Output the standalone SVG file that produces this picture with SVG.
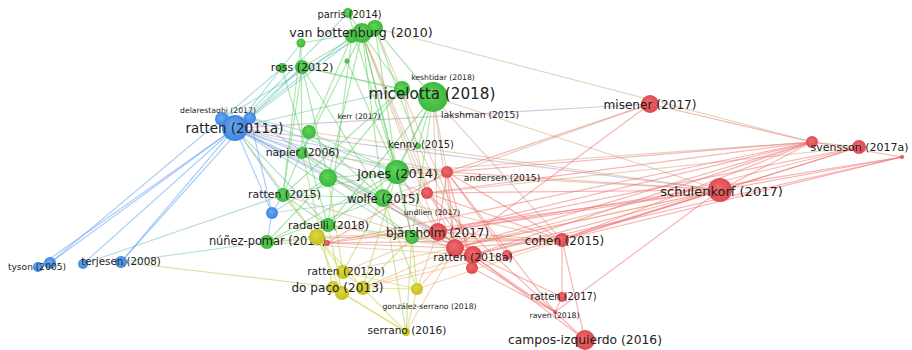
<svg xmlns="http://www.w3.org/2000/svg" width="912" height="350" viewBox="0 0 912 350">
<defs>
<radialGradient id="gG" cx="50%" cy="50%" r="50%" fx="40%" fy="35%"><stop offset="0" stop-color="#5fd35a"/><stop offset="1" stop-color="#3eb83e"/></radialGradient>
<radialGradient id="gR" cx="50%" cy="50%" r="50%" fx="40%" fy="35%"><stop offset="0" stop-color="#f06a6a"/><stop offset="1" stop-color="#dc4a52"/></radialGradient>
<radialGradient id="gB" cx="50%" cy="50%" r="50%" fx="40%" fy="35%"><stop offset="0" stop-color="#68a8f4"/><stop offset="1" stop-color="#3f86e0"/></radialGradient>
<radialGradient id="gY" cx="50%" cy="50%" r="50%" fx="40%" fy="35%"><stop offset="0" stop-color="#dedb40"/><stop offset="1" stop-color="#c6c01e"/></radialGradient>
</defs>
<style>
.eg{stroke:#5fcc5f;stroke-opacity:.5;stroke-width:1.2}
.eb{stroke:#5a9cf0;stroke-opacity:.5;stroke-width:1.2}
.ebg{stroke:#5ab8b8;stroke-opacity:.45;stroke-width:1.2}
.ebr{stroke:#a880c8;stroke-opacity:.45;stroke-width:1.2}
.egr{stroke:#c8a070;stroke-opacity:.45;stroke-width:1.2}
.er{stroke:#f06a6a;stroke-opacity:.5;stroke-width:1.2}
.ey{stroke:#d6d240;stroke-opacity:.55;stroke-width:1.2}
.eyg{stroke:#a8cc48;stroke-opacity:.5;stroke-width:1.2}
.eyr{stroke:#e8a060;stroke-opacity:.45;stroke-width:1.2}
.G{fill:url(#gG)}.R{fill:url(#gR)}.B{fill:url(#gB)}.Y{fill:url(#gY)}
text{font-family:"DejaVu Sans","Liberation Sans",sans-serif;fill:#222222;text-anchor:middle}
</style>
<rect width="912" height="350" fill="#ffffff"/>
<g id="connectors">
<line class="eb" x1="235" y1="128" x2="38" y2="267"/>
<line class="eb" x1="235" y1="128" x2="50" y2="263"/>
<line class="eb" x1="222" y1="119" x2="50" y2="263"/>
<line class="eb" x1="235" y1="128" x2="83" y2="264"/>
<line class="eb" x1="235" y1="128" x2="121" y2="262"/>
<line class="eb" x1="250" y1="118" x2="121" y2="262"/>
<line class="eb" x1="235" y1="128" x2="272" y2="213"/>
<line class="eb" x1="250" y1="118" x2="272" y2="213"/>
<line class="eb" x1="235" y1="128" x2="283" y2="195"/>
<line class="eb" x1="235" y1="128" x2="302" y2="153"/>
<line class="eb" x1="235" y1="128" x2="328" y2="178"/>
<line class="eb" x1="272" y1="213" x2="283" y2="195"/>
<line class="eb" x1="272" y1="213" x2="267" y2="242"/>
<line class="ebg" x1="235" y1="128" x2="302" y2="67"/>
<line class="ebg" x1="222" y1="119" x2="282" y2="68"/>
<line class="ebg" x1="250" y1="118" x2="302" y2="67"/>
<line class="ebg" x1="235" y1="128" x2="352" y2="36"/>
<line class="ebg" x1="250" y1="118" x2="362" y2="33"/>
<line class="ebg" x1="222" y1="119" x2="375" y2="28"/>
<line class="ebg" x1="235" y1="128" x2="301" y2="43"/>
<line class="ebg" x1="240" y1="122" x2="348" y2="13"/>
<line class="ebg" x1="235" y1="128" x2="402" y2="89"/>
<line class="ebg" x1="250" y1="118" x2="309" y2="132"/>
<line class="ebg" x1="235" y1="128" x2="397" y2="172"/>
<line class="ebg" x1="250" y1="118" x2="397" y2="172"/>
<line class="ebg" x1="235" y1="128" x2="383" y2="198"/>
<line class="ebg" x1="235" y1="128" x2="412" y2="237"/>
<line class="ebg" x1="235" y1="128" x2="328" y2="225"/>
<line class="ebg" x1="121" y1="262" x2="267" y2="242"/>
<line class="ebg" x1="83" y1="264" x2="283" y2="195"/>
<line class="ebg" x1="272" y1="213" x2="383" y2="198"/>
<line class="ebg" x1="272" y1="213" x2="328" y2="178"/>
<line class="ebr" x1="235" y1="128" x2="447" y2="172"/>
<line class="ebr" x1="235" y1="128" x2="427" y2="193"/>
<line class="ebr" x1="235" y1="128" x2="438" y2="232"/>
<line class="ebr" x1="235" y1="128" x2="650" y2="104"/>
<line class="ebr" x1="250" y1="118" x2="455" y2="248"/>
<line class="ebr" x1="235" y1="128" x2="720" y2="190"/>
<line class="eyg" x1="121" y1="262" x2="333" y2="287"/>
<line class="eyg" x1="235" y1="128" x2="317" y2="237"/>
<line class="eg" x1="362" y1="33" x2="302" y2="67"/>
<line class="eg" x1="362" y1="33" x2="301" y2="43"/>
<line class="eg" x1="375" y1="28" x2="433" y2="97"/>
<line class="eg" x1="362" y1="33" x2="402" y2="89"/>
<line class="eg" x1="362" y1="33" x2="397" y2="172"/>
<line class="eg" x1="375" y1="28" x2="397" y2="172"/>
<line class="eg" x1="362" y1="33" x2="383" y2="198"/>
<line class="eg" x1="352" y1="36" x2="283" y2="195"/>
<line class="eg" x1="362" y1="33" x2="302" y2="153"/>
<line class="eg" x1="362" y1="33" x2="328" y2="178"/>
<line class="eg" x1="352" y1="36" x2="328" y2="225"/>
<line class="eg" x1="362" y1="33" x2="412" y2="237"/>
<line class="eg" x1="348" y1="13" x2="362" y2="33"/>
<line class="eg" x1="348" y1="13" x2="397" y2="172"/>
<line class="eg" x1="375" y1="28" x2="418" y2="146"/>
<line class="eg" x1="347" y1="61" x2="397" y2="172"/>
<line class="eg" x1="301" y1="43" x2="283" y2="195"/>
<line class="eg" x1="301" y1="43" x2="302" y2="153"/>
<line class="eg" x1="302" y1="67" x2="402" y2="89"/>
<line class="eg" x1="302" y1="67" x2="433" y2="97"/>
<line class="eg" x1="302" y1="67" x2="328" y2="178"/>
<line class="eg" x1="302" y1="67" x2="283" y2="195"/>
<line class="eg" x1="282" y1="68" x2="328" y2="225"/>
<line class="eg" x1="302" y1="67" x2="383" y2="198"/>
<line class="eg" x1="433" y1="97" x2="397" y2="172"/>
<line class="eg" x1="433" y1="97" x2="383" y2="198"/>
<line class="eg" x1="402" y1="89" x2="328" y2="178"/>
<line class="eg" x1="433" y1="97" x2="412" y2="237"/>
<line class="eg" x1="402" y1="89" x2="283" y2="195"/>
<line class="eg" x1="433" y1="97" x2="418" y2="146"/>
<line class="eg" x1="309" y1="132" x2="397" y2="172"/>
<line class="eg" x1="309" y1="132" x2="383" y2="198"/>
<line class="eg" x1="302" y1="153" x2="383" y2="198"/>
<line class="eg" x1="302" y1="153" x2="412" y2="237"/>
<line class="eg" x1="328" y1="178" x2="397" y2="172"/>
<line class="eg" x1="328" y1="178" x2="383" y2="198"/>
<line class="eg" x1="397" y1="172" x2="383" y2="198"/>
<line class="eg" x1="283" y1="195" x2="383" y2="198"/>
<line class="eg" x1="283" y1="195" x2="328" y2="225"/>
<line class="eg" x1="328" y1="225" x2="412" y2="237"/>
<line class="eg" x1="267" y1="242" x2="328" y2="178"/>
<line class="eg" x1="267" y1="242" x2="383" y2="198"/>
<line class="eg" x1="397" y1="172" x2="412" y2="237"/>
<line class="eg" x1="267" y1="242" x2="397" y2="172"/>
<line class="eg" x1="283" y1="195" x2="397" y2="172"/>
<line class="eg" x1="328" y1="225" x2="397" y2="172"/>
<line class="eg" x1="433" y1="97" x2="328" y2="225"/>
<line class="egr" x1="362" y1="33" x2="455" y2="248"/>
<line class="egr" x1="362" y1="33" x2="438" y2="232"/>
<line class="egr" x1="375" y1="28" x2="473" y2="255"/>
<line class="egr" x1="362" y1="33" x2="427" y2="193"/>
<line class="egr" x1="375" y1="28" x2="812" y2="142"/>
<line class="egr" x1="433" y1="97" x2="455" y2="248"/>
<line class="egr" x1="433" y1="97" x2="447" y2="172"/>
<line class="egr" x1="433" y1="97" x2="720" y2="190"/>
<line class="egr" x1="433" y1="97" x2="438" y2="232"/>
<line class="egr" x1="433" y1="97" x2="562" y2="240"/>
<line class="egr" x1="397" y1="172" x2="447" y2="172"/>
<line class="egr" x1="397" y1="172" x2="438" y2="232"/>
<line class="egr" x1="397" y1="172" x2="455" y2="248"/>
<line class="egr" x1="397" y1="172" x2="720" y2="190"/>
<line class="egr" x1="397" y1="172" x2="812" y2="142"/>
<line class="egr" x1="383" y1="198" x2="455" y2="248"/>
<line class="egr" x1="383" y1="198" x2="438" y2="232"/>
<line class="egr" x1="383" y1="198" x2="562" y2="240"/>
<line class="egr" x1="383" y1="198" x2="650" y2="104"/>
<line class="egr" x1="383" y1="198" x2="859" y2="147"/>
<line class="egr" x1="309" y1="132" x2="720" y2="190"/>
<line class="egr" x1="412" y1="237" x2="455" y2="248"/>
<line class="egr" x1="412" y1="237" x2="562" y2="240"/>
<line class="egr" x1="328" y1="225" x2="455" y2="248"/>
<line class="egr" x1="328" y1="178" x2="438" y2="232"/>
<line class="egr" x1="283" y1="195" x2="455" y2="248"/>
<line class="egr" x1="267" y1="242" x2="438" y2="232"/>
<line class="egr" x1="267" y1="242" x2="473" y2="255"/>
<line class="egr" x1="302" y1="153" x2="447" y2="172"/>
<line class="egr" x1="402" y1="89" x2="427" y2="193"/>
<line class="egr" x1="418" y1="146" x2="473" y2="255"/>
<line class="er" x1="812" y1="142" x2="447" y2="172"/>
<line class="er" x1="812" y1="142" x2="427" y2="193"/>
<line class="er" x1="812" y1="142" x2="438" y2="232"/>
<line class="er" x1="812" y1="142" x2="455" y2="248"/>
<line class="er" x1="812" y1="142" x2="473" y2="255"/>
<line class="er" x1="812" y1="142" x2="562" y2="240"/>
<line class="er" x1="812" y1="142" x2="720" y2="190"/>
<line class="er" x1="812" y1="142" x2="327" y2="243"/>
<line class="er" x1="859" y1="147" x2="455" y2="248"/>
<line class="er" x1="859" y1="147" x2="562" y2="240"/>
<line class="er" x1="859" y1="147" x2="438" y2="232"/>
<line class="er" x1="859" y1="147" x2="720" y2="190"/>
<line class="er" x1="859" y1="147" x2="812" y2="142"/>
<line class="er" x1="902" y1="157" x2="473" y2="255"/>
<line class="er" x1="902" y1="157" x2="562" y2="240"/>
<line class="er" x1="902" y1="157" x2="720" y2="190"/>
<line class="er" x1="902" y1="157" x2="438" y2="232"/>
<line class="er" x1="902" y1="157" x2="812" y2="142"/>
<line class="er" x1="720" y1="190" x2="438" y2="232"/>
<line class="er" x1="720" y1="190" x2="455" y2="248"/>
<line class="er" x1="720" y1="190" x2="473" y2="255"/>
<line class="er" x1="720" y1="190" x2="562" y2="240"/>
<line class="er" x1="720" y1="190" x2="555" y2="312"/>
<line class="er" x1="720" y1="190" x2="447" y2="172"/>
<line class="er" x1="720" y1="190" x2="427" y2="193"/>
<line class="er" x1="720" y1="190" x2="327" y2="243"/>
<line class="er" x1="562" y1="240" x2="562" y2="297"/>
<line class="er" x1="562" y1="240" x2="585" y2="340"/>
<line class="er" x1="562" y1="240" x2="455" y2="248"/>
<line class="er" x1="562" y1="240" x2="438" y2="232"/>
<line class="er" x1="562" y1="240" x2="447" y2="172"/>
<line class="er" x1="562" y1="240" x2="427" y2="193"/>
<line class="er" x1="562" y1="297" x2="555" y2="312"/>
<line class="er" x1="455" y1="248" x2="555" y2="312"/>
<line class="er" x1="473" y1="255" x2="585" y2="340"/>
<line class="er" x1="438" y1="232" x2="555" y2="312"/>
<line class="er" x1="473" y1="255" x2="562" y2="297"/>
<line class="er" x1="585" y1="340" x2="555" y2="312"/>
<line class="er" x1="650" y1="104" x2="447" y2="172"/>
<line class="er" x1="650" y1="104" x2="455" y2="248"/>
<line class="er" x1="650" y1="104" x2="812" y2="142"/>
<line class="er" x1="447" y1="172" x2="438" y2="232"/>
<line class="er" x1="447" y1="172" x2="455" y2="248"/>
<line class="er" x1="427" y1="193" x2="473" y2="255"/>
<line class="er" x1="438" y1="232" x2="473" y2="255"/>
<line class="er" x1="327" y1="243" x2="455" y2="248"/>
<line class="er" x1="327" y1="243" x2="562" y2="240"/>
<line class="er" x1="447" y1="172" x2="327" y2="243"/>
<line class="er" x1="427" y1="193" x2="555" y2="312"/>
<line class="er" x1="447" y1="172" x2="555" y2="312"/>
<line class="er" x1="472" y1="268" x2="555" y2="312"/>
<line class="er" x1="447" y1="172" x2="507" y2="255"/>
<line class="er" x1="447" y1="172" x2="472" y2="268"/>
<line class="er" x1="720" y1="190" x2="507" y2="255"/>
<line class="ey" x1="317" y1="237" x2="343" y2="272"/>
<line class="ey" x1="317" y1="237" x2="363" y2="288"/>
<line class="ey" x1="317" y1="237" x2="342" y2="293"/>
<line class="ey" x1="343" y1="272" x2="363" y2="288"/>
<line class="ey" x1="363" y1="288" x2="406" y2="332"/>
<line class="ey" x1="342" y1="293" x2="406" y2="332"/>
<line class="ey" x1="417" y1="289" x2="406" y2="332"/>
<line class="ey" x1="343" y1="272" x2="417" y2="289"/>
<line class="ey" x1="363" y1="288" x2="417" y2="289"/>
<line class="ey" x1="333" y1="287" x2="406" y2="332"/>
<line class="eyg" x1="317" y1="237" x2="328" y2="225"/>
<line class="eyg" x1="317" y1="237" x2="267" y2="242"/>
<line class="eyg" x1="343" y1="272" x2="383" y2="198"/>
<line class="eyg" x1="363" y1="288" x2="412" y2="237"/>
<line class="eyg" x1="417" y1="289" x2="412" y2="237"/>
<line class="eyg" x1="417" y1="289" x2="383" y2="198"/>
<line class="eyg" x1="406" y1="332" x2="412" y2="237"/>
<line class="eyg" x1="317" y1="237" x2="283" y2="195"/>
<line class="eyg" x1="343" y1="272" x2="328" y2="178"/>
<line class="eyg" x1="363" y1="288" x2="397" y2="172"/>
<line class="eyg" x1="342" y1="293" x2="328" y2="225"/>
<line class="eyg" x1="333" y1="287" x2="302" y2="153"/>
<line class="eyg" x1="406" y1="332" x2="383" y2="198"/>
<line class="eyr" x1="406" y1="332" x2="455" y2="248"/>
<line class="eyr" x1="417" y1="289" x2="455" y2="248"/>
<line class="eyr" x1="417" y1="289" x2="438" y2="232"/>
<line class="eyr" x1="343" y1="272" x2="438" y2="232"/>
<line class="eyr" x1="363" y1="288" x2="455" y2="248"/>
<line class="eyr" x1="363" y1="288" x2="562" y2="240"/>
<line class="eyr" x1="317" y1="237" x2="438" y2="232"/>
<line class="eyr" x1="417" y1="289" x2="562" y2="240"/>
<line class="eyr" x1="342" y1="293" x2="473" y2="255"/>
<line class="eyr" x1="343" y1="272" x2="720" y2="190"/>
<line class="eyr" x1="317" y1="237" x2="562" y2="240"/>
</g>
<g id="nodes">
<g id="n-parris"><circle class="G" cx="348" cy="13" r="5"/><text x="349.5" y="17.5" font-size="9.9">parris (2014)</text></g>
<g id="n-vanbottenburg"><circle class="G" cx="375" cy="28" r="8"/><circle class="G" cx="352" cy="36" r="7"/><circle class="G" cx="362" cy="33" r="10"/><text x="361" y="37" font-size="12.6">van bottenburg (2010)</text></g>
<g id="n-g3"><circle class="G" cx="301" cy="43" r="4.5"/></g>
<g id="n-g4"><circle class="G" cx="347" cy="61" r="2.5"/></g>
<g id="n-ross"><circle class="G" cx="282" cy="68" r="5"/><circle class="G" cx="302" cy="67" r="7"/><text x="302" y="71" font-size="11">ross (2012)</text></g>
<g id="n-micelotta"><circle class="G" cx="402" cy="89" r="8"/><circle class="G" cx="433" cy="97" r="15"/><text x="432" y="98.5" font-size="15.2">micelotta (2018)</text></g>
<g id="n-keshtidar"><text x="443" y="79.5" font-size="7.7">keshtidar (2018)</text></g>
<g id="n-delarestaghi"><text x="218" y="112.5" font-size="7.7">delarestaghi (2017)</text></g>
<g id="n-ratten2011a"><circle class="B" cx="222" cy="119" r="7"/><circle class="B" cx="250" cy="118" r="6"/><circle class="B" cx="235" cy="128" r="13"/><text x="234.5" y="133" font-size="13.4">ratten (2011a)</text></g>
<g id="n-kerr"><text x="359" y="118.5" font-size="7.7">kerr (2017)</text></g>
<g id="n-lakshman"><text x="480" y="117.5" font-size="9.2">lakshman (2015)</text></g>
<g id="n-g8"><circle class="G" cx="309" cy="132" r="7"/></g>
<g id="n-napier"><circle class="G" cx="302" cy="153" r="6"/><text x="302.5" y="156" font-size="10.8">napier (2006)</text></g>
<g id="n-kenny"><circle class="G" cx="418" cy="146" r="3"/><text x="421" y="148" font-size="9.9">kenny (2015)</text></g>
<g id="n-g11"><circle class="G" cx="328" cy="178" r="9"/></g>
<g id="n-jones"><circle class="G" cx="397" cy="172" r="12"/><text x="397.5" y="178" font-size="12.8">jones (2014)</text></g>
<g id="n-andersen"><circle class="R" cx="447" cy="172" r="6"/><text x="502" y="180.5" font-size="9.2">andersen (2015)</text></g>
<g id="n-ratten2015"><circle class="G" cx="283" cy="195" r="7"/><text x="284.5" y="198" font-size="10.9">ratten (2015)</text></g>
<g id="n-undlien"><circle class="R" cx="427" cy="193" r="6"/><text x="432" y="214.5" font-size="7.7">undlien (2017)</text></g>
<g id="n-wolfe"><circle class="G" cx="383" cy="198" r="9"/><text x="383.5" y="203" font-size="11.5">wolfe (2015)</text></g>
<g id="n-b2"><circle class="B" cx="272" cy="213" r="6"/></g>
<g id="n-radaelli"><circle class="G" cx="328" cy="225" r="7"/><text x="328.5" y="229" font-size="11">radaelli (2018)</text></g>
<g id="n-nunezpomar"><circle class="G" cx="267" cy="242" r="7"/><text x="267.5" y="245" font-size="11.4">núñez-pomar (2016)</text></g>
<g id="n-y1"><circle class="Y" cx="317" cy="237" r="8"/></g>
<g id="n-r12"><circle class="R" cx="327" cy="243" r="3"/></g>
<g id="n-bjarsholm"><circle class="G" cx="412" cy="237" r="7"/><circle class="R" cx="438" cy="232" r="9"/><text x="437.5" y="236.5" font-size="12">bjärsholm (2017)</text></g>
<g id="n-ratten2018a"><circle class="R" cx="472" cy="268" r="6"/><circle class="R" cx="507" cy="255" r="5"/><circle class="R" cx="455" cy="248" r="9"/><circle class="R" cx="473" cy="255" r="9"/><text x="473" y="261" font-size="10.9">ratten (2018a)</text></g>
<g id="n-cohen"><circle class="R" cx="562" cy="240" r="7"/><text x="564.5" y="245" font-size="11.9">cohen (2015)</text></g>
<g id="n-ratten2012b"><circle class="Y" cx="343" cy="272" r="7"/><text x="346" y="275" font-size="10.6">ratten (2012b)</text></g>
<g id="n-dopaco"><circle class="Y" cx="333" cy="287" r="6"/><circle class="Y" cx="342" cy="293" r="7"/><circle class="Y" cx="363" cy="288" r="7"/><text x="337.5" y="291.5" font-size="12.1">do paço (2013)</text></g>
<g id="n-y4"><circle class="Y" cx="417" cy="289" r="6"/></g>
<g id="n-gonzalezserrano"><text x="429.5" y="308.5" font-size="7.7">gonzález-serrano (2018)</text></g>
<g id="n-serrano"><circle class="Y" cx="406" cy="332" r="4"/><text x="407" y="334" font-size="10.6">serrano (2016)</text></g>
<g id="n-ratten2017"><circle class="R" cx="562" cy="297" r="5"/><text x="563.5" y="300" font-size="9.9">ratten (2017)</text></g>
<g id="n-raven"><circle class="R" cx="555" cy="312" r="2"/><text x="554.5" y="317.5" font-size="7.7">raven (2018)</text></g>
<g id="n-camposizquierdo"><circle class="R" cx="585" cy="340" r="10"/><text x="585" y="343.5" font-size="12.3">campos-izquierdo (2016)</text></g>
<g id="n-misener"><circle class="R" cx="650" cy="104" r="9"/><text x="650" y="108.5" font-size="12.1">misener (2017)</text></g>
<g id="n-svensson"><circle class="R" cx="812" cy="142" r="6"/><circle class="R" cx="902" cy="157" r="2"/><circle class="R" cx="859" cy="147" r="7"/><text x="859.5" y="151" font-size="11">svensson (2017a)</text></g>
<g id="n-schulenkorf"><circle class="R" cx="720" cy="190" r="12"/><text x="721.5" y="195.5" font-size="13">schulenkorf (2017)</text></g>
<g id="n-tyson"><circle class="B" cx="38" cy="267" r="5"/><circle class="B" cx="50" cy="263" r="6"/><text x="37" y="269.5" font-size="9.1">tyson (2005)</text></g>
<g id="n-terjesen"><circle class="B" cx="83" cy="264" r="5"/><circle class="B" cx="121" cy="262" r="6"/><text x="121" y="265" font-size="10.3">terjesen (2008)</text></g>
</g>
</svg>
